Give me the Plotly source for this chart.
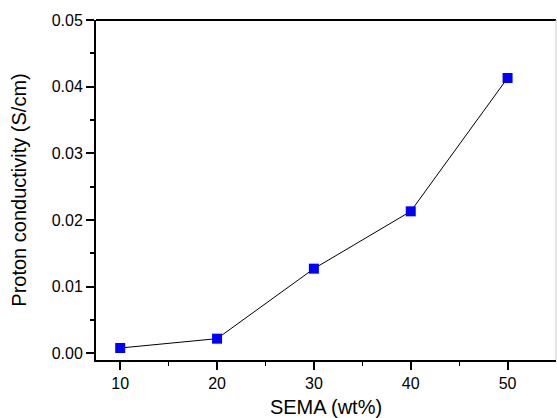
import plotly.graph_objects as go

sema = [10, 20, 30, 40, 50]
conductivity = [0.0008, 0.0022, 0.0127, 0.0213, 0.0413]
x_ticks = [10, 20, 30, 40, 50]
y_ticks = [0.00, 0.01, 0.02, 0.03, 0.04, 0.05]
y_tick_text = ["0.00", "0.01", "0.02", "0.03", "0.04", "0.05"]

fig = go.Figure()
fig.add_trace(go.Scatter(
    x=sema, y=conductivity, mode="lines+markers",
    line=dict(color="black", width=1),
    marker=dict(symbol="square", size=10, color="#0000ff", line=dict(width=0)),
    showlegend=False,
))

font = dict(family="Liberation Sans, Arial, sans-serif", color="black")
fig.update_layout(
    width=557, height=418,
    margin=dict(l=96, r=1, t=20, b=58),
    paper_bgcolor="white", plot_bgcolor="white",
    font=dict(**font, size=16),
    xaxis=dict(
        range=[7.5, 55], tickvals=x_ticks, ticks="outside", ticklen=8, tickwidth=2,
        tickcolor="black", showline=True, linecolor="black", linewidth=2,
        mirror=False, showgrid=False, zeroline=False,
        minor=dict(tickvals=[15, 25, 35, 45], ticks="outside", ticklen=4, tickwidth=1, tickcolor="black"),
        title=dict(text="SEMA (wt%)", font=dict(size=20), standoff=12),
        tickfont=dict(size=16),
    ),
    yaxis=dict(
        range=[-0.001, 0.05], tickvals=y_ticks, ticktext=y_tick_text, ticks="outside",
        ticklen=8, tickwidth=2, tickcolor="black", showline=True, linecolor="black",
        linewidth=2, showgrid=False, zeroline=False,
        minor=dict(tickvals=[0.005, 0.015, 0.025, 0.035, 0.045], ticks="outside", ticklen=4, tickwidth=2, tickcolor="black"),
        title=dict(text="Proton conductivity (S/cm)", font=dict(size=20), standoff=20),
        tickfont=dict(size=16),
    ),
)
# top border (thick) and right border (thin grey)
fig.add_shape(type="line", xref="paper", yref="paper", x0=0, x1=1, y0=1, y1=1,
              line=dict(color="black", width=2))
fig.add_shape(type="line", xref="paper", yref="paper", x0=1, x1=1, y0=0, y1=1,
              line=dict(color="#cccccc", width=1))

fig.write_html("out.html")
